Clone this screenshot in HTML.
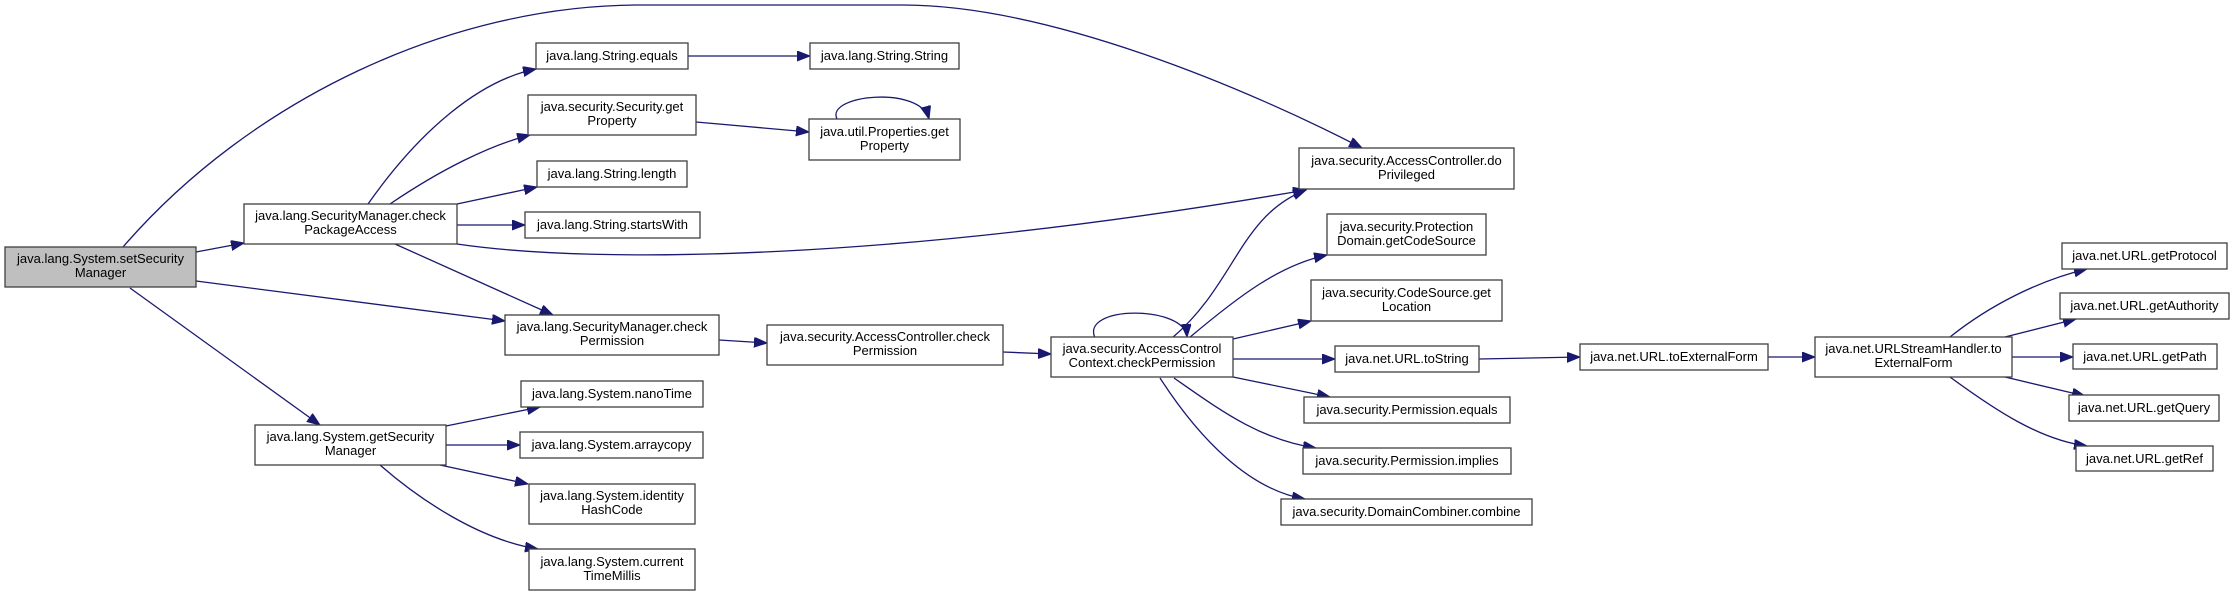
<!DOCTYPE html>
<html><head><meta charset="utf-8"><style>
html,body{margin:0;padding:0;background:#fff;}
svg{display:block;}
text{font-family:"Liberation Sans",Arial,sans-serif;font-size:13px;fill:#000;}
.n{fill:#fff;stroke:#404040;stroke-width:1.3;}
.e{fill:none;stroke:#191970;stroke-width:1.3;}
</style></head><body>
<svg width="2235" height="593" viewBox="0 0 2235 593" xmlns="http://www.w3.org/2000/svg">
<defs>
<marker id="a" markerUnits="userSpaceOnUse" markerWidth="14" markerHeight="12" refX="13" refY="5" orient="auto">
<path d="M0,0 L13,5 L0,10 z" fill="#191970" stroke="#191970"/>
</marker>
</defs>
<g marker-end="url(#a)">
<path class="e" d="M123,247 C250,100 450,5 640,5 L903,5 C1050,5 1250,90 1362,148"/>
<path class="e" d="M196,252 L244,243"/>
<path class="e" d="M196,281 L505,321"/>
<path class="e" d="M130,288 L320,425"/>
<path class="e" d="M368,204 C420,130 480,80 536,69"/>
<path class="e" d="M390,204 C440,170 490,145 530,135"/>
<path class="e" d="M457,204 L537,187"/>
<path class="e" d="M457,225 L525,225"/>
<path class="e" d="M457,244 C600,265 900,260 1306,190"/>
<path class="e" d="M395,244 L553,315"/>
<path class="e" d="M688,56 L810,56"/>
<path class="e" d="M696,122 L809,132"/>
<path class="e" d="M837,119 C825,95 920,85 929,119"/>
<path class="e" d="M719,340 L767,343"/>
<path class="e" d="M1003,352 L1051,354"/>
<path class="e" d="M1095,338 C1080,305 1185,305 1187,337"/>
<path class="e" d="M1172,338 C1235,285 1240,215 1306,190"/>
<path class="e" d="M1189,338 C1240,295 1280,265 1327,255"/>
<path class="e" d="M1233,339 L1311,321"/>
<path class="e" d="M1233,359 L1335,359"/>
<path class="e" d="M1233,377 L1330,397"/>
<path class="e" d="M1174,378 C1220,410 1260,440 1316,448"/>
<path class="e" d="M1160,378 C1200,440 1250,490 1305,499"/>
<path class="e" d="M1479,359 L1580,357"/>
<path class="e" d="M1768,357 L1815,357"/>
<path class="e" d="M1950,337 C1990,305 2040,280 2087,269"/>
<path class="e" d="M2005,337 L2076,319"/>
<path class="e" d="M2012,357 L2073,357"/>
<path class="e" d="M2005,377 L2085,396"/>
<path class="e" d="M1950,377 C1995,410 2040,440 2087,446"/>
<path class="e" d="M446,426 L540,407"/>
<path class="e" d="M446,445 L520,445"/>
<path class="e" d="M440,465 L528,484"/>
<path class="e" d="M380,465 C420,500 480,540 538,549"/>
</g>
<rect x="5" y="247" width="191" height="40" fill="#bfbfbf" stroke="#404040" stroke-width="1.3"/>
<text x="100.5" y="263" text-anchor="middle">java.lang.System.setSecurity</text><text x="100.5" y="277" text-anchor="middle">Manager</text>
<rect class="n" x="244" y="204" width="213" height="40"/>
<text x="350.5" y="220" text-anchor="middle">java.lang.SecurityManager.check</text><text x="350.5" y="234" text-anchor="middle">PackageAccess</text>
<rect class="n" x="536" y="43" width="152" height="26"/><text x="612" y="60" text-anchor="middle">java.lang.String.equals</text>
<rect class="n" x="528" y="95" width="168" height="40"/>
<text x="612" y="111" text-anchor="middle">java.security.Security.get</text><text x="612" y="125" text-anchor="middle">Property</text>
<rect class="n" x="537" y="161" width="150" height="26"/><text x="612" y="178" text-anchor="middle">java.lang.String.length</text>
<rect class="n" x="525" y="212" width="175" height="26"/><text x="612.5" y="229" text-anchor="middle">java.lang.String.startsWith</text>
<rect class="n" x="505" y="315" width="214" height="40"/>
<text x="612" y="331" text-anchor="middle">java.lang.SecurityManager.check</text><text x="612" y="345" text-anchor="middle">Permission</text>
<rect class="n" x="255" y="425" width="191" height="40"/>
<text x="350.5" y="441" text-anchor="middle">java.lang.System.getSecurity</text><text x="350.5" y="455" text-anchor="middle">Manager</text>
<rect class="n" x="521" y="381" width="182" height="26"/><text x="612" y="398" text-anchor="middle">java.lang.System.nanoTime</text>
<rect class="n" x="520" y="432" width="183" height="26"/><text x="611.5" y="449" text-anchor="middle">java.lang.System.arraycopy</text>
<rect class="n" x="529" y="484" width="166" height="40"/>
<text x="612" y="500" text-anchor="middle">java.lang.System.identity</text><text x="612" y="514" text-anchor="middle">HashCode</text>
<rect class="n" x="529" y="549" width="166" height="41"/>
<text x="612" y="566" text-anchor="middle">java.lang.System.current</text><text x="612" y="580" text-anchor="middle">TimeMillis</text>
<rect class="n" x="810" y="43" width="149" height="26"/><text x="884.5" y="60" text-anchor="middle">java.lang.String.String</text>
<rect class="n" x="809" y="119" width="151" height="41"/>
<text x="884.5" y="136" text-anchor="middle">java.util.Properties.get</text><text x="884.5" y="150" text-anchor="middle">Property</text>
<rect class="n" x="1299" y="148" width="215" height="41"/>
<text x="1406.5" y="165" text-anchor="middle">java.security.AccessController.do</text><text x="1406.5" y="179" text-anchor="middle">Privileged</text>
<rect class="n" x="1327" y="214" width="159" height="41"/>
<text x="1406.5" y="231" text-anchor="middle">java.security.Protection</text><text x="1406.5" y="245" text-anchor="middle">Domain.getCodeSource</text>
<rect class="n" x="1311" y="280" width="191" height="41"/>
<text x="1406.5" y="297" text-anchor="middle">java.security.CodeSource.get</text><text x="1406.5" y="311" text-anchor="middle">Location</text>
<rect class="n" x="1335" y="346" width="144" height="26"/><text x="1407" y="363" text-anchor="middle">java.net.URL.toString</text>
<rect class="n" x="1304" y="397" width="206" height="26"/><text x="1407" y="414" text-anchor="middle">java.security.Permission.equals</text>
<rect class="n" x="1303" y="448" width="208" height="26"/><text x="1407" y="465" text-anchor="middle">java.security.Permission.implies</text>
<rect class="n" x="1281" y="499" width="251" height="26"/><text x="1406.5" y="516" text-anchor="middle">java.security.DomainCombiner.combine</text>
<rect class="n" x="767" y="325" width="236" height="40"/>
<text x="885" y="341" text-anchor="middle">java.security.AccessController.check</text><text x="885" y="355" text-anchor="middle">Permission</text>
<rect class="n" x="1051" y="337" width="182" height="40"/>
<text x="1142" y="353" text-anchor="middle">java.security.AccessControl</text><text x="1142" y="367" text-anchor="middle">Context.checkPermission</text>
<rect class="n" x="1580" y="344" width="188" height="26"/><text x="1674" y="361" text-anchor="middle">java.net.URL.toExternalForm</text>
<rect class="n" x="1815" y="337" width="197" height="40"/>
<text x="1913.5" y="353" text-anchor="middle">java.net.URLStreamHandler.to</text><text x="1913.5" y="367" text-anchor="middle">ExternalForm</text>
<rect class="n" x="2062" y="243" width="165" height="26"/><text x="2144.5" y="260" text-anchor="middle">java.net.URL.getProtocol</text>
<rect class="n" x="2060" y="293" width="169" height="26"/><text x="2144.5" y="310" text-anchor="middle">java.net.URL.getAuthority</text>
<rect class="n" x="2073" y="344" width="144" height="25"/><text x="2145" y="361" text-anchor="middle">java.net.URL.getPath</text>
<rect class="n" x="2069" y="395" width="150" height="26"/><text x="2144" y="412" text-anchor="middle">java.net.URL.getQuery</text>
<rect class="n" x="2076" y="446" width="137" height="25"/><text x="2144.5" y="463" text-anchor="middle">java.net.URL.getRef</text>
</svg>
</body></html>
